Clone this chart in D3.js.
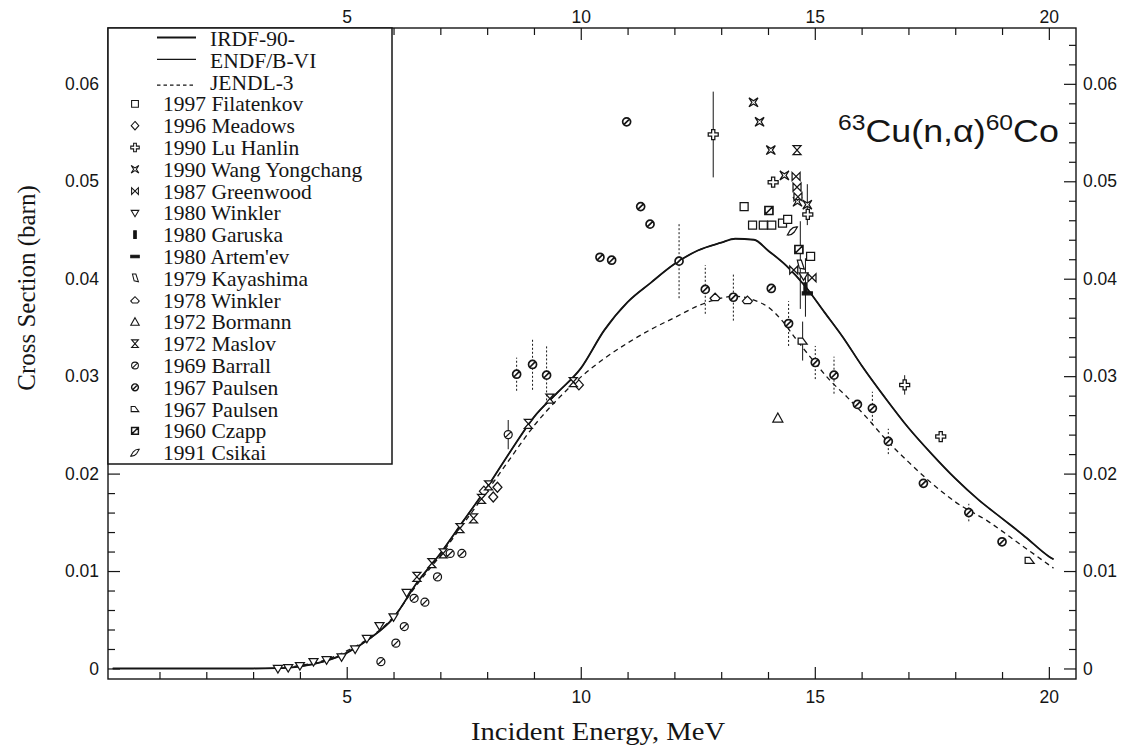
<!DOCTYPE html>
<html><head><meta charset="utf-8">
<script src="https://cdn.jsdelivr.net/npm/d3@7"></script>
<style>body{margin:0;background:#fff}svg{display:block}</style>
</head><body>
<svg id="c" width="1129" height="750"></svg>
<script>
// ---------------- data ----------------
const xMajorTicks = [5, 10, 15, 20];
const xTickLabels = ["5", "10", "15", "20"];
const yMajorTicks = [0, 0.01, 0.02, 0.03, 0.04, 0.05, 0.06];
const yTickLabels = ["0", "0.01", "0.02", "0.03", "0.04", "0.05", "0.06"];

// evaluated curves (energy MeV, cross section barn)
const irdfE = [0, 3.0, 3.5, 4.0, 4.5, 5.0, 5.5, 6.0, 6.5, 7.0, 7.5, 8.0, 8.5, 9.0, 9.5, 10.0, 10.5, 11.0, 11.5, 12.0, 12.5, 13.0, 13.3, 13.7, 14.0, 14.4, 14.8, 15.2, 15.6, 16.0, 16.5, 17.0, 17.5, 18.0, 18.5, 19.0, 19.5, 20.0, 20.1];
const irdfV = [0, 0, 0.00003, 0.0002, 0.0007, 0.0016, 0.0031, 0.0052, 0.0088, 0.0118, 0.0152, 0.0186, 0.0223, 0.0258, 0.0283, 0.0308, 0.0347, 0.0376, 0.0396, 0.0415, 0.0429, 0.0437, 0.0441, 0.0440, 0.0429, 0.0413, 0.0392, 0.0366, 0.0340, 0.0311, 0.0278, 0.0247, 0.0220, 0.0195, 0.0173, 0.0154, 0.0135, 0.0115, 0.0112];
const endfE = [0, 3.0, 3.5, 4.0, 4.5, 5.0, 5.5, 6.0, 6.5, 7.0, 7.5, 8.0, 8.5, 9.0, 9.5, 10.0, 10.5, 11.0, 11.5, 12.0, 12.5, 13.0, 13.3, 13.7, 14.0, 14.4, 14.8, 15.2, 15.6, 16.0, 16.5, 17.0, 17.5, 18.0, 18.5, 19.0, 19.5, 20.0, 20.1];
const endfV = [0, 0, 0.00003, 0.0002, 0.0007, 0.0016, 0.0031, 0.0052, 0.0088, 0.0118, 0.0152, 0.0186, 0.0223, 0.0258, 0.0283, 0.0308, 0.0347, 0.0376, 0.0396, 0.0415, 0.0429, 0.0437, 0.0441, 0.0440, 0.0429, 0.0413, 0.0392, 0.0366, 0.0340, 0.0311, 0.0278, 0.0247, 0.0220, 0.0195, 0.0173, 0.0154, 0.0135, 0.0115, 0.0112];
const jendlE = [3.5, 4.0, 4.5, 5.0, 5.5, 6.0, 6.5, 7.0, 7.5, 8.0, 8.5, 9.0, 9.5, 10.0, 10.5, 11.0, 11.5, 12.0, 12.5, 13.0, 13.3, 13.7, 14.0, 14.3, 14.6, 15.0, 15.3, 15.7, 16.1, 16.5, 17.0, 17.5, 18.0, 18.7, 19.4, 20.1];
const jendlV = [0.00005, 0.0003, 0.0008, 0.0018, 0.0032, 0.0053, 0.0086, 0.0116, 0.0149, 0.0182, 0.0216, 0.0249, 0.0276, 0.0299, 0.0318, 0.0334, 0.0348, 0.0360, 0.0372, 0.0380, 0.0382, 0.0378, 0.0371, 0.0357, 0.0338, 0.0314, 0.0297, 0.0278, 0.0258, 0.0236, 0.0212, 0.0190, 0.0171, 0.0151, 0.0127, 0.0103];

// experimental data [E, sigma, error]
const filatenkov = [[13.49,0.0474],[13.67,0.0455],[13.90,0.0455],[14.08,0.0455],[14.31,0.0457],[14.42,0.0461],[14.91,0.0423]];
const meadows = [[7.93,0.0182],[8.13,0.0176],[8.22,0.0186],[9.96,0.0291]];
const luHanlin = [[12.83,0.0548,0.0044],[14.11,0.0499],[14.85,0.0466],[16.92,0.0291,0.0010],[17.69,0.0238]];
const wangYongchang = [[13.69,0.0581],[13.82,0.0561],[14.06,0.0532],[14.35,0.0506],[14.63,0.0479],[14.84,0.0476,0.0021]];
const greenwood = [[14.60,0.0505],[14.62,0.0494],[14.64,0.0484],[14.55,0.0409],[14.94,0.0401]];
const winkler1980 = [[3.53,0.0000],[3.75,0.0001],[4.00,0.0003],[4.29,0.0007],[4.57,0.0009],[4.89,0.0012],[5.18,0.0020],[5.43,0.0031],[5.70,0.0044],[6.00,0.0053],[6.28,0.0078],[14.76,0.0403]];
const garuska = [[14.80,0.0391,0.0030]];
const artemev = [[14.84,0.0385]];
const kayashima = [[14.69,0.0414,0.0045]];
const winkler1978 = [[12.87,0.0381],[13.56,0.0378]];
const bormann = [[14.21,0.0257]];
const maslov = [[6.50,0.0094],[6.82,0.0108],[7.06,0.0118],[7.42,0.0144],[7.71,0.0154],[7.88,0.0174],[8.03,0.0188],[8.88,0.0251],[9.34,0.0277],[9.84,0.0294],[14.62,0.0532]];
const barrall = [[5.73,0.0007],[6.05,0.0026],[6.23,0.0043],[6.44,0.0072],[6.67,0.0068],[6.94,0.0094],[7.21,0.0118],[7.46,0.0118],[8.45,0.0240,0.0015]];
const paulsenA = [[8.63,0.0302,0.0017],[8.97,0.0312,0.0026],[9.27,0.0301,0.0030],[10.41,0.0422],[10.66,0.0419],[10.98,0.0561],[11.28,0.0474],[11.48,0.0456],[12.10,0.0418,0.0038],[12.66,0.0389,0.0025],[13.26,0.0381,0.0024],[14.07,0.0390],[14.44,0.0354,0.0023],[15.01,0.0314,0.0017],[15.41,0.0301,0.0019],[15.91,0.0271],[16.23,0.0267,0.0017],[16.57,0.0233,0.0013],[17.32,0.0190],[18.29,0.0160,0.0009],[19.00,0.0130]];
const paulsenB = [[14.74,0.0336,0.0020],[19.59,0.0111]];
const czapp = [[14.02,0.0470],[14.66,0.0430]];
const csikai = [[14.52,0.0449]];

const curveLabels = ["IRDF-90-", "ENDF/B-VI", "JENDL-3"];
const seriesLabels = ["1997 Filatenkov","1996 Meadows","1990 Lu Hanlin","1990 Wang Yongchang","1987 Greenwood","1980 Winkler","1980 Garuska","1980 Artem'ev","1979 Kayashima","1978 Winkler","1972 Bormann","1972 Maslov","1969 Barrall","1967 Paulsen","1967 Paulsen","1960 Czapp","1991 Csikai"];
const seriesData = [filatenkov, meadows, luHanlin, wangYongchang, greenwood, winkler1980, garuska, artemev, kayashima, winkler1978, bormann, maslov, barrall, paulsenA, paulsenB, czapp, csikai];
const seriesShape = ["square","diamond","cross","star","bowtie","tridown","vbar","hbar","kite","house","triup","hourglass","circSlash","circSlashB","trap","sqSlash","leaf"];

// ---------------- drawing ----------------
const ink = "#151515";
const L = 108, R = 1076, T = 28, B = 679;
const x = d3.scaleLinear().domain([-0.1, 20.58]).range([L, R]);
const y = d3.scaleLinear().domain([-0.00108, 0.06573]).range([B, T]);
const svg = d3.select("#c");
svg.append("rect").attr("width",1129).attr("height",750).attr("fill","#fff");
svg.append("defs").append("clipPath").attr("id","clip")
  .append("rect").attr("x",L).attr("y",T).attr("width",R-L).attr("height",B-T);

const shapes = {
  square: "M-4,-4h8v8h-8z",
  diamond: "M0,-5L4.5,0L0,5L-4.5,0Z",
  cross: "M-1.6,-5h3.2v3.4h3.4v3.2h-3.4v3.4h-3.2v-3.4h-3.4v-3.2h3.4z",
  star: "M-4.5,-4.5L0,-1.6L4.5,-4.5L1.6,0L4.5,4.5L0,1.6L-4.5,4.5L-1.6,0Z",
  bowtie: "M-4,-4L-4,4L4,-4L4,4Z",
  tridown: "M-4.5,-3L4.5,-3L0,4.5Z",
  vbar: "M-1.5,-4.5h3v9h-3z",
  hbar: "M-5,-1.5h10v3h-10z",
  kite: "M-3,-5L1,-5L4,4L-1,3Z",
  house: "M-5,1L0,-4L5,1L3,3.5L-3,3.5Z",
  triup: "M0,-5L5,4L-5,4Z",
  hourglass: "M-4,-4.5L4,-4.5L-4,4.5L4,4.5Z",
  circSlash: "M4,0A4,4 0 1,1 -4,0A4,4 0 1,1 4,0Z M-2.8,2.8L2.8,-2.8",
  circSlashB: "M4,0A4,4 0 1,1 -4,0A4,4 0 1,1 4,0Z M-2.8,2.8L2.8,-2.8",
  trap: "M-4.5,3L4.5,3L0,-3L-4.5,-3Z",
  sqSlash: "M-4,-4h8v8h-8z M-4,4L4,-4",
  leaf: "M-5,4L-2,-1Q1,-4.5 5,-4L2,1Q-1,4.5 -5,4Z"
};
const filled = {vbar:true, hbar:true};
function drawSymbol(g, shape, cx, cy, k) {
  g.append("path").attr("d", shapes[shape])
    .attr("transform", `translate(${cx},${cy}) scale(${k})`)
    .attr("fill", filled[shape] ? ink : "#fff")
    .attr("stroke", ink)
    .attr("stroke-width", (shape === "circSlashB" || shape === "sqSlash") ? 1.7 : 1.25);
}

// axes ticks (inward)
const minorX = d3.range(1, 21).filter(d => d % 5 !== 0);
const minorY = d3.range(0, 66, 2).map(d => d / 1000).filter(d => Math.round(d * 1000) % 10 !== 0);
function styleAxis(g) {
  g.select(".domain").remove();
  g.selectAll("line").attr("stroke", ink).attr("stroke-width", 1.2);
  g.selectAll("text").attr("fill", ink).style("font-family", "'Liberation Sans', Arial, sans-serif").style("font-size", "17.5px");
}
const axes = svg.append("g");
axes.append("g").attr("transform",`translate(0,${B})`)
  .call(d3.axisBottom(x).tickValues(xMajorTicks).tickFormat((d,i)=>xTickLabels[i]).tickSize(-12).tickSizeOuter(0).tickPadding(12)).call(styleAxis);
axes.append("g").attr("transform",`translate(0,${B})`)
  .call(d3.axisBottom(x).tickValues(minorX).tickFormat("").tickSize(-7).tickSizeOuter(0)).call(styleAxis);
axes.append("g").attr("transform",`translate(0,${T})`)
  .call(d3.axisTop(x).tickValues(xMajorTicks).tickFormat((d,i)=>xTickLabels[i]).tickSize(-12).tickSizeOuter(0).tickPadding(5)).call(styleAxis);
axes.append("g").attr("transform",`translate(0,${T})`)
  .call(d3.axisTop(x).tickValues(minorX).tickFormat("").tickSize(-7).tickSizeOuter(0)).call(styleAxis);
axes.append("g").attr("transform",`translate(${L},0)`)
  .call(d3.axisLeft(y).tickValues(yMajorTicks).tickFormat((d,i)=>yTickLabels[i]).tickSize(-12).tickSizeOuter(0).tickPadding(9)).call(styleAxis);
axes.append("g").attr("transform",`translate(${L},0)`)
  .call(d3.axisLeft(y).tickValues(minorY).tickFormat("").tickSize(-7).tickSizeOuter(0)).call(styleAxis);
axes.append("g").attr("transform",`translate(${R},0)`)
  .call(d3.axisRight(y).tickValues(yMajorTicks).tickFormat((d,i)=>yTickLabels[i]).tickSize(-12).tickSizeOuter(0).tickPadding(7)).call(styleAxis);
axes.append("g").attr("transform",`translate(${R},0)`)
  .call(d3.axisRight(y).tickValues(minorY).tickFormat("").tickSize(-7).tickSizeOuter(0)).call(styleAxis);

// curves
const plot = svg.append("g").attr("clip-path","url(#clip)");
const line = d3.line().x(d => x(d[0])).y(d => y(d[1])).curve(d3.curveMonotoneX);
plot.append("path").attr("d", line(d3.zip(jendlE, jendlV))).attr("fill","none").attr("stroke",ink).attr("stroke-width",1.3).attr("stroke-dasharray","5,4");
plot.append("path").attr("d", line(d3.zip(irdfE, irdfV))).attr("fill","none").attr("stroke",ink).attr("stroke-width",1.8);
plot.append("path").attr("d", line(d3.zip(endfE, endfV))).attr("fill","none").attr("stroke",ink).attr("stroke-width",1.2);

// error bars and points
const pts = plot.append("g");
seriesData.forEach((data, si) => {
  data.forEach(p => {
    if (p[2]) {
      pts.append("line").attr("x1", x(p[0])).attr("x2", x(p[0]))
        .attr("y1", y(p[1] - p[2])).attr("y2", y(p[1] + p[2]))
        .attr("stroke", ink).attr("stroke-width", 1)
        .attr("stroke-dasharray", seriesShape[si] === "circSlashB" ? "2,2" : null);
    }
  });
});
seriesData.forEach((data, si) => {
  data.forEach(p => drawSymbol(pts, seriesShape[si], x(p[0]), y(p[1]), 1));
});

// frame
svg.append("rect").attr("x",L).attr("y",T).attr("width",R-L).attr("height",B-T)
  .attr("fill","none").attr("stroke",ink).attr("stroke-width",1.4);

// legend
const lg = svg.append("g");
const rowY = i => 38.5 + i * 21.8;
lg.append("rect").attr("x",L).attr("y",T).attr("width",284).attr("height",436)
  .attr("fill","#fff").attr("stroke",ink).attr("stroke-width",1.5);
const serif = "'Liberation Serif', 'Times New Roman', serif";
curveLabels.forEach((t, i) => {
  const ly = rowY(i) + (i === 2 ? 3 : -1);
  lg.append("line").attr("x1",157).attr("x2",196).attr("y1",ly).attr("y2",ly)
    .attr("stroke",ink).attr("stroke-width", i === 0 ? 1.8 : 1.2)
    .attr("stroke-dasharray", i === 2 ? "3.5,3" : null);
  lg.append("text").attr("x",210).attr("y",rowY(i)).attr("dy","0.35em")
    .style("font-family",serif).style("font-size","21.5px").attr("fill",ink).text(t);
});
seriesLabels.forEach((t, j) => {
  const i = j + 3;
  drawSymbol(lg, seriesShape[j], 135, rowY(i), 0.85);
  lg.append("text").attr("x",163).attr("y",rowY(i)).attr("dy","0.35em")
    .style("font-family",serif).style("font-size","21.5px").attr("fill",ink).text(t);
});

// reaction label
const rt = svg.append("text").attr("transform","translate(838,142) scale(1.12,1)")
  .style("font-family","'Liberation Sans', Arial, sans-serif").style("font-size","32px").attr("fill",ink);
rt.append("tspan").attr("dy","-12").style("font-size","22px").text("63");
rt.append("tspan").attr("dy","12").text("Cu(n,\u03b1)");
rt.append("tspan").attr("dy","-12").style("font-size","22px").text("60");
rt.append("tspan").attr("dy","12").text("Co");

// axis titles
svg.append("text").attr("transform","translate(26,288) rotate(-90)")
  .attr("text-anchor","middle").attr("dominant-baseline","central")
  .style("font-family",serif).style("font-size","25px").attr("fill",ink).text("Cross Section (barn)");
svg.append("text").attr("transform","translate(598,740) scale(1.1,1)").attr("text-anchor","middle")
  .style("font-family",serif).style("font-size","26px").attr("fill",ink).text("Incident Energy, MeV");
</script>
</body></html>
